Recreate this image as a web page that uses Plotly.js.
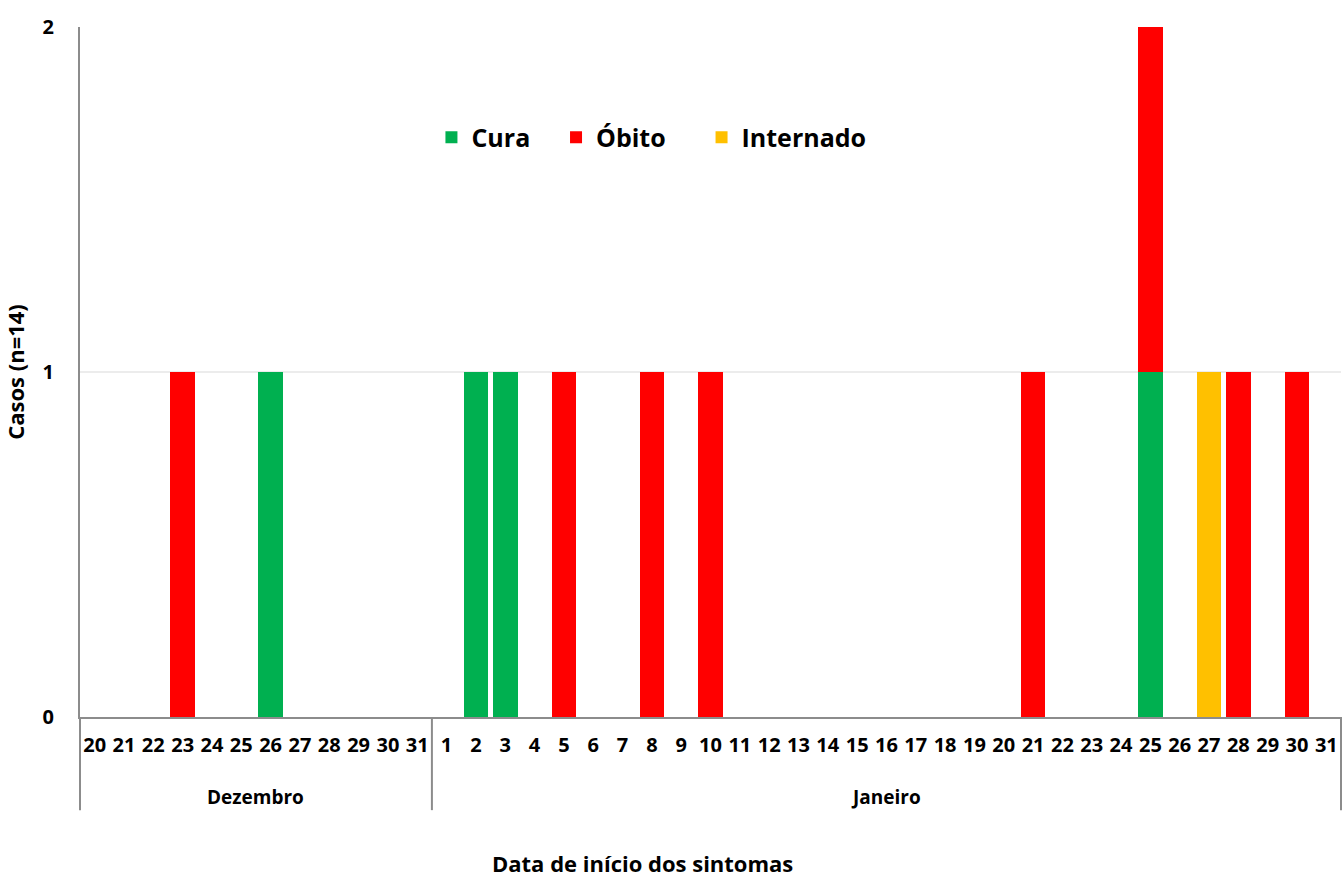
<!DOCTYPE html>
<html>
<head>
<meta charset="utf-8">
<script src="https://cdn.plot.ly/plotly-3.0.1.min.js"></script>
<style>html,body{margin:0;padding:0;background:#fff;}#chart{width:1343px;height:886px;}</style>
</head>
<body>
<div id="chart"></div>
<script>
// Categories: December 20-31 and January 1-31
const months = [
  "Dezembro","Dezembro","Dezembro","Dezembro","Dezembro","Dezembro","Dezembro","Dezembro","Dezembro","Dezembro","Dezembro","Dezembro",
  "Janeiro","Janeiro","Janeiro","Janeiro","Janeiro","Janeiro","Janeiro","Janeiro","Janeiro","Janeiro","Janeiro","Janeiro","Janeiro","Janeiro","Janeiro","Janeiro",
  "Janeiro","Janeiro","Janeiro","Janeiro","Janeiro","Janeiro","Janeiro","Janeiro","Janeiro","Janeiro","Janeiro","Janeiro","Janeiro","Janeiro","Janeiro"
];
const days = [
  "20","21","22","23","24","25","26","27","28","29","30","31",
  "1","2","3","4","5","6","7","8","9","10","11","12","13","14","15","16",
  "17","18","19","20","21","22","23","24","25","26","27","28","29","30","31"
];
// Series values (per category, same order as above)
const cura = [
  0,0,0,0,0,0,1,0,0,0,0,0,
  0,1,1,0,0,0,0,0,0,0,0,0,0,0,0,0,
  0,0,0,0,0,0,0,0,1,0,0,0,0,0,0
];
const obito = [
  0,0,0,1,0,0,0,0,0,0,0,0,
  0,0,0,0,1,0,0,1,0,1,0,0,0,0,0,0,
  0,0,0,0,1,0,0,0,1,0,0,1,0,1,0
];
const internado = [
  0,0,0,0,0,0,0,0,0,0,0,0,
  0,0,0,0,0,0,0,0,0,0,0,0,0,0,0,0,
  0,0,0,0,0,0,0,0,0,0,1,0,0,0,0
];
const seriesNames = ["Cura", "Óbito", "Internado"];
const yTicks = [0, 1, 2];
const xTitle = "Data de início dos sintomas";
const yTitle = "Casos (n=14)";

const FONT = "'Open Sans', 'DejaVu Sans', sans-serif";
const GRAY = "#8c8c8c";

// unique category keys (month + day), displayed as the day number only
const keys = months.map((m, i) => m + " " + days[i]);
const N = keys.length;

const traces = [
  {type: "bar", name: seriesNames[0], x: keys, y: cura, legend: "legend", marker: {color: "#00B050", line: {width: 0}}},
  {type: "bar", name: seriesNames[1], x: keys, y: obito, legend: "legend2", marker: {color: "#FF0000", line: {width: 0}}},
  {type: "bar", name: seriesNames[2], x: keys, y: internado, legend: "legend3", marker: {color: "#FFC000", line: {width: 0}}}
];

// month groups -> dividers and group labels
const groups = [];
months.forEach((m, i) => {
  if (!groups.length || groups[groups.length - 1].name !== m) groups.push({name: m, start: i, end: i});
  else groups[groups.length - 1].end = i;
});
const divBottom = -0.135;
const shapes = [];
const bounds = [0].concat(groups.map(g => g.end + 1));
bounds.forEach(b => {
  shapes.push({type: "line", xref: "paper", yref: "paper", x0: b / N, x1: b / N, y0: 0, y1: divBottom,
    line: {color: GRAY, width: 2}});
});
const annotations = groups.map(g => ({
  xref: "x", yref: "paper", x: (g.start + g.end) / 2, y: -0.116, yanchor: "middle", xanchor: "center",
  text: g.name, showarrow: false, font: {family: FONT, size: 19, color: "#000", weight: "bold"}
}));
annotations.push({
  xref: "paper", yref: "paper", x: 0.4457, y: -0.212, xanchor: "center", yanchor: "middle",
  text: xTitle, showarrow: false, font: {family: FONT, size: 22, color: "#000", weight: "bold"}
});

const legendBase = {
  orientation: "h", xanchor: "left", y: 0.84, yanchor: "middle",
  font: {family: FONT, size: 25, color: "#000", weight: "bold"},
  itemwidth: 30, bgcolor: "rgba(0,0,0,0)"
};

const layout = {
  width: 1343, height: 886,
  margin: {l: 80, r: 2, t: 27, b: 169},
  paper_bgcolor: "#fff", plot_bgcolor: "#fff",
  barmode: "stack",
  bargap: 0.16,
  font: {family: FONT, color: "#000"},
  showlegend: true,
  legend: Object.assign({}, legendBase, {x: 0.2787}),
  legend2: Object.assign({}, legendBase, {x: 0.3775}),
  legend3: Object.assign({}, legendBase, {x: 0.4929}),
  xaxis: {
    type: "category",
    tickvals: keys, ticktext: days, tickangle: 0,
    range: [-0.5, N - 0.5],
    showline: true, linecolor: GRAY, linewidth: 2,
    showgrid: false, zeroline: false,
    ticks: "",
    ticklabelstandoff: 9,
    tickfont: {family: FONT, size: 20, color: "#000", weight: "bold"}
  },
  yaxis: {
    range: [0, 2],
    tickvals: yTicks,
    ticktext: yTicks.map(String),
    showline: true, linecolor: GRAY, linewidth: 2,
    showgrid: true, gridcolor: "#ececec", gridwidth: 2,
    zeroline: false,
    ticks: "",
    ticklabelstandoff: 20,
    tickfont: {family: FONT, size: 20, color: "#000", weight: "bold"},
    title: {text: yTitle, font: {family: FONT, size: 22, color: "#000", weight: "bold"}, standoff: 14}
  },
  shapes: shapes,
  annotations: annotations
};

Plotly.newPlot("chart", traces, layout, {displayModeBar: false, staticPlot: true});
</script>
</body>
</html>
